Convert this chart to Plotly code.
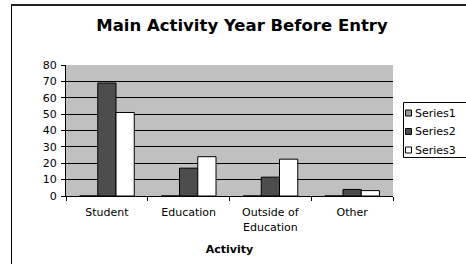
import plotly.graph_objects as go

categories = ["Student", "Education", "Outside of<br>Education", "Other"]
series_names = ["Series1", "Series2", "Series3"]
series1 = [0, 0, 0, 0]
series2 = [69, 17, 11.5, 4]
series3 = [51, 24, 22.5, 3.3]
series_colors = ["#999999", "#4D4D4D", "#FFFFFF"]
y_ticks = [0, 10, 20, 30, 40, 50, 60, 70, 80]

FONT = "Verdana, DejaVu Sans, sans-serif"
W, H = 466, 264
# plot area in screen pixels: x 66..393, y 65..196
L, T = 66, 65
PW, PH = 327, 131
R = W - L - PW
B = H - T - PH


def px_x(sx):
    return (sx - L) / PW


def px_y(sy):
    return (T + PH - sy) / PH


fig = go.Figure()
for name, vals, col in zip(series_names, [series1, series2, series3], series_colors):
    fig.add_trace(go.Bar(name=name, x=categories, y=vals,
                         marker=dict(color=col, line=dict(color="black", width=1))))

shapes = [
    # outer chart border: left and top edges (right/bottom lie outside the view)
    dict(type="line", xref="paper", yref="paper",
         x0=px_x(11.5), x1=px_x(11.5), y0=px_y(270), y1=px_y(5),
         line=dict(color="black", width=1), layer="above"),
    dict(type="line", xref="paper", yref="paper",
         x0=px_x(11), x1=px_x(470), y0=px_y(5), y1=px_y(5),
         line=dict(color="#222222", width=2), layer="above"),
    # legend box
    dict(type="rect", xref="paper", yref="paper",
         x0=px_x(403.5), x1=px_x(480), y0=px_y(157.5), y1=px_y(102.5),
         line=dict(color="black", width=1), fillcolor="white", layer="above"),
]
annotations = []
for i, (name, col) in enumerate(zip(series_names, series_colors)):
    cy = 113 + i * 18.5
    shapes.append(dict(type="rect", xref="paper", yref="paper",
                       x0=px_x(405.5), x1=px_x(411.5), y0=px_y(cy + 3), y1=px_y(cy - 3),
                       line=dict(color="black", width=1), fillcolor=col, layer="above"))
    annotations.append(dict(text=name, xref="paper", yref="paper",
                            x=px_x(413), y=px_y(cy), xanchor="left", yanchor="middle",
                            showarrow=False, font=dict(family=FONT, size=11, color="black")))

fig.update_layout(
    width=W, height=H,
    margin=dict(l=L, r=R, t=T, b=B, autoexpand=False),
    paper_bgcolor="white",
    plot_bgcolor="#C0C0C0",
    barmode="group",
    bargap=0.33,
    bargroupgap=0,
    font=dict(family=FONT, size=11, color="black"),
    title=dict(text="<b>Main Activity Year Before Entry</b>",
               x=242 / W, xref="container", xanchor="center",
               y=1 - 25.5 / H, yref="container", yanchor="middle",
               font=dict(family=FONT, size=16.5, color="black")),
    showlegend=False,
    hovermode=False,
    shapes=shapes,
    annotations=annotations,
)

fig.update_xaxes(
    showline=True, linecolor="black", linewidth=1,
    ticks="outside", ticklen=4, tickcolor="black", tickson="boundaries",
    ticklabelstandoff=6,
    showgrid=False,
    title=dict(text="<b>Activity</b>", font=dict(family=FONT, size=11), standoff=12),
    tickfont=dict(family=FONT, size=11),
)
fig.update_yaxes(
    range=[0, 80], tickvals=y_ticks,
    showline=True, linecolor="black", linewidth=1,
    ticks="outside", ticklen=4, tickcolor="black",
    ticklabelstandoff=2,
    showgrid=True, gridcolor="black", gridwidth=1,
    zeroline=False,
    tickfont=dict(family=FONT, size=11),
)

fig.write_html("out.html",
               config={"displayModeBar": False, "staticPlot": True},
               post_script="document.body.style.margin='0';document.body.style.overflow='hidden';")
